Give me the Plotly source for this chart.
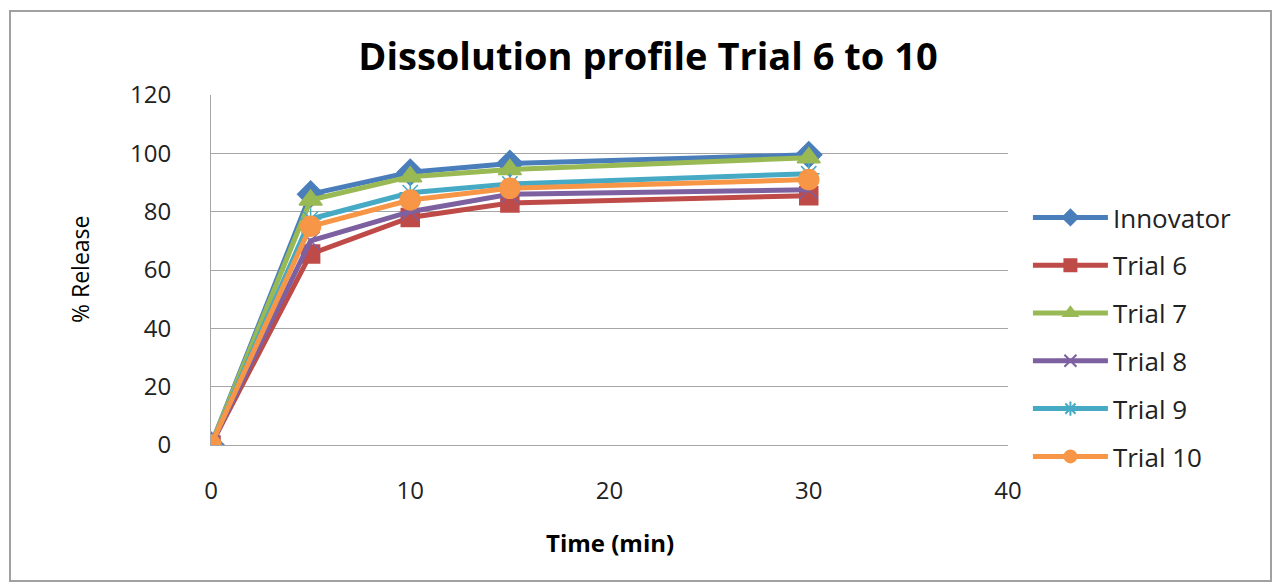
import plotly.graph_objects as go

time_min = [0, 5, 10, 15, 30]
innovator = [0, 86, 93.5, 96.5, 99.5]
trial_6 = [0, 65.5, 78, 83, 85.5]
trial_7 = [0, 84, 92, 94.5, 98.5]
trial_8 = [0, 70, 80, 86, 87.5]
trial_9 = [0, 77.5, 86.5, 89.5, 93]
trial_10 = [0, 75, 84, 88, 91]

series = [
    ("Innovator", innovator, "#4A7EBB", "diamond", 20),
    ("Trial 6", trial_6, "#BE4B48", "square", 18),
    ("Trial 7", trial_7, "#98B954", "triangle-up", 20),
    ("Trial 8", trial_8, "#7D60A0", "x-thin-open", 18),
    ("Trial 9", trial_9, "#46AAC5", "asterisk-open", 18),
    ("Trial 10", trial_10, "#F79646", "circle", 20),
]

FONT = "Open Sans"

fig = go.Figure()
for name, vals, color, sym, size in series:
    fig.add_trace(go.Scatter(
        x=time_min, y=vals, name=name, mode="lines+markers",
        legendgroup=name,
        line=dict(color=color, width=5),
        marker=dict(symbol=sym, size=size, color=color,
                    line=dict(color=color, width=1.5)),
    ))

fig.update_layout(
    width=1276, height=583,
    margin=dict(l=211, r=268, t=95, b=138),
    paper_bgcolor="white", plot_bgcolor="white",
    font=dict(family=FONT, color="#000000"),
    title=dict(text="<b>Dissolution profile Trial 6 to 10</b>",
               x=(648) / 1276, xanchor="center", y=1 - 57 / 583, yanchor="middle",
               font=dict(size=38, family=FONT, color="#000000")),
    showlegend=True,
    legend=dict(x=1.025, xanchor="left", y=(445 - 194) / 350, yanchor="top",
                font=dict(size=26, family=FONT, color="#222222"),
                tracegroupgap=11, bgcolor="rgba(0,0,0,0)", itemsizing="constant",
                itemwidth=75),
    xaxis=dict(range=[0, 40], tickvals=[0, 10, 20, 30, 40], showgrid=False,
               zeroline=False, showline=True, linecolor="#A6A6A6", linewidth=1,
               tickfont=dict(size=24, family=FONT, color="#222222"),
               ticks="", ticklabelstandoff=24),
    yaxis=dict(range=[0, 120], tickvals=[0, 20, 40, 60, 80, 100, 120],
               showgrid=True, gridcolor="#A6A6A6", gridwidth=1,
               zeroline=False, showline=True, linecolor="#A6A6A6", linewidth=1,
               tickfont=dict(size=24, family=FONT, color="#222222"),
               ticks="", ticklabelstandoff=34),
    annotations=[
        dict(text="<b>Time (min)</b>", xref="paper", yref="paper",
             x=0.5, y=(445 - 542) / 350, xanchor="center", yanchor="middle",
             showarrow=False, font=dict(size=24, family=FONT, color="#000000")),
        dict(text="% Release", xref="paper", yref="paper",
             x=(80 - 211) / 797, y=0.5, xanchor="center", yanchor="middle",
             textangle=-90, showarrow=False,
             font=dict(size=23, family=FONT, color="#000000")),
    ],
    shapes=[
        dict(type="rect", xref="paper", yref="paper",
             x0=(10 - 211) / 797, x1=(1271 - 211) / 797,
             y0=(445 - 581) / 350, y1=(445 - 11) / 350,
             line=dict(color="#A0A0A0", width=2), fillcolor="rgba(0,0,0,0)",
             layer="below"),
    ],
)

fig.write_html("out.html")
